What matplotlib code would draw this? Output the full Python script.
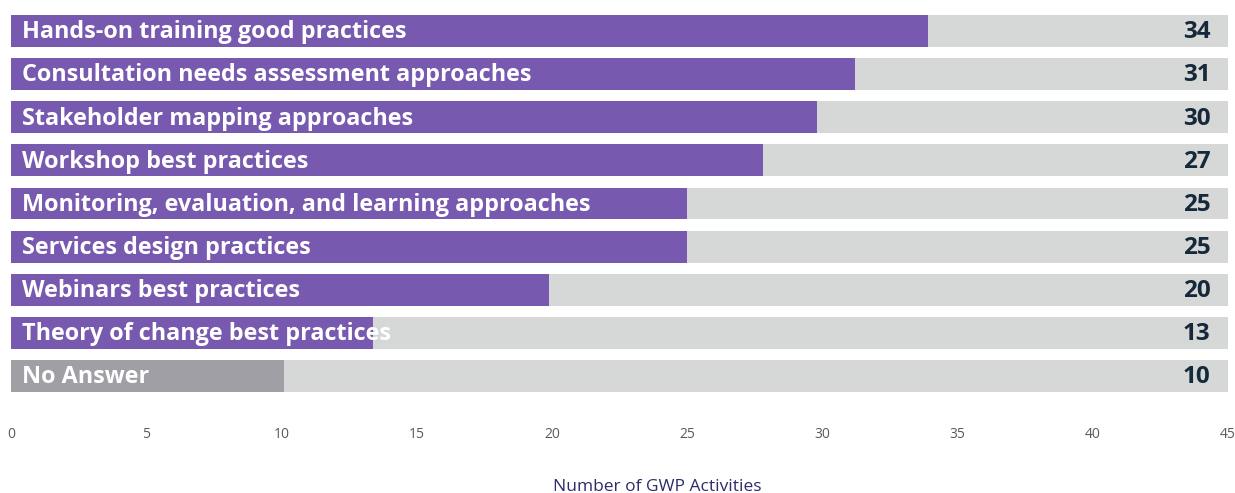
import matplotlib.pyplot as plt

# data
categories = [
    "Hands-on training good practices",
    "Consultation needs assessment approaches",
    "Stakeholder mapping approaches",
    "Workshop best practices",
    "Monitoring, evaluation, and learning approaches",
    "Services design practices",
    "Webinars best practices",
    "Theory of change best practices",
    "No Answer",
]
counts = [34, 31, 30, 27, 25, 25, 20, 13, 10]
# bar lengths as drawn in the original (slightly off the printed counts)
bar_lengths = [33.9, 31.2, 29.8, 27.8, 25.0, 25.0, 19.9, 13.4, 10.1]
max_value = 45
ticks = [0, 5, 10, 15, 20, 25, 30, 35, 40, 45]

purple = "#7759b0"
grey_bar = "#a09fa6"
track = "#d6d8d8"

fig = plt.figure(figsize=(12.35, 4.93), dpi=100)
ax = fig.add_axes([0.0089, 0.1935, 0.9854, 0.7874])

ypos = list(range(len(categories)))
colors = [purple] * (len(categories) - 1) + [grey_bar]

# grey track behind each bar
ax.barh(ypos, [max_value] * len(ypos), height=0.74, color=track, zorder=1)
ax.barh(ypos, bar_lengths, height=0.74, color=colors, zorder=2)

for i, (cat, n) in enumerate(zip(categories, counts)):
    ax.text(0.4, i + 0.03, cat, ha="left", va="center", color="white",
            fontsize=16.8, fontweight="bold", family="Open Sans", zorder=3)
    ax.text(44.35, i + 0.03, str(n), ha="right", va="center", color="#15293a",
            fontsize=17.5, fontweight="bold", family="Open Sans", zorder=3)

ax.set_xlim(0, max_value)
ax.set_ylim(len(categories) - 0.5, -0.5)
ax.set_yticks([])
ax.set_xticks(ticks)
ax.set_xticklabels([str(t) for t in ticks], family="Open Sans",
                   fontsize=10, color="#5a5a5a")
ax.tick_params(axis="x", length=0, pad=21)
for s in ax.spines.values():
    s.set_visible(False)

ax.set_xlabel("Number of GWP Activities", family="Open Sans", fontsize=12.5,
              color="#2b2d6b")
ax.xaxis.set_label_coords(0.531, -0.21)

fig.savefig("out.png", dpi=100)
